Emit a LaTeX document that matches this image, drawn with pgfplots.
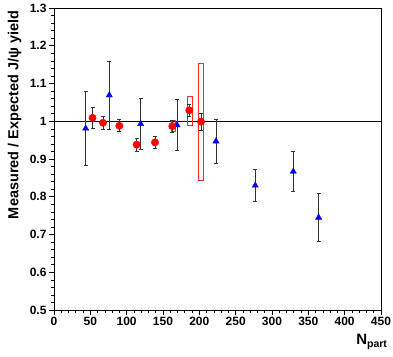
\documentclass[border=0pt]{standalone}
\usepackage{pgfplots}
\pgfplotsset{compat=1.18}
\usepackage{fontspec}
\setmainfont{Liberation Sans}

\begin{document}
\begin{tikzpicture}[x=1pt,y=1pt]
\path[use as bounding box] (-54,-46) rectangle (339,310);
\begin{axis}[
  scale only axis,
  width=327pt, height=302pt,
  at={(0,0)}, anchor=south west,
  xmin=0, xmax=450, ymin=0.5, ymax=1.3,
  xtick={0,50,...,450}, ytick={0.5,0.6,...,1.3},
  minor x tick num=4, minor y tick num=4,
  xtick pos=left, ytick pos=left,
  tick align=outside,
  major tick length=5pt, minor tick length=3pt,
  tick style={black, line width=0.6pt},
  axis line style={line width=0.7pt, black},
  /pgf/number format/assume math mode=true,
  ticklabel style={font=\fontsize{12}{13}\selectfont\bfseries},
  yticklabel style={xshift=1pt},
  xticklabel style={yshift=1.5pt},
  xlabel={N\textsubscript{part}},
  xlabel style={at={(axis description cs:1,0)}, anchor=north east,
    yshift=-21pt, xshift=10pt, font=\fontsize{15}{16}\selectfont\bfseries},
  ylabel={Measured / Expected J/ψ yield},
  ylabel style={at={(axis description cs:-0.089,1.003)}, anchor=south east,
    font=\fontsize{14.5}{16}\selectfont\bfseries},
  clip=false,
]
% reference line
\addplot[black, line width=0.7pt] coordinates {(0,1) (450,1)};
% systematic boxes
\addplot[red!85, line width=0.8pt] coordinates {(162,0.972) (167.5,0.972) (167.5,1.003) (162,1.003) (162,0.972)};
\addplot[red!85, line width=0.8pt] coordinates {(183.5,0.990) (190.4,0.990) (190.4,1.067) (183.5,1.067) (183.5,0.990)};
\addplot[red!85, line width=0.8pt] coordinates {(198.6,0.843) (205.5,0.843) (205.5,1.153) (198.6,1.153) (198.6,0.843)};
% blue triangles
\addplot[blue, only marks, mark=triangle*, mark size=3.6pt,
  error bars/.cd, y dir=both, y explicit,
  error bar style={black!80, line width=0.8pt},
  error mark options={rotate=90, mark size=2pt, black!80, line width=0.8pt}]
  coordinates {
  (43.6,0.981) +- (0,0.098)
  (76.1,1.069) +- (0,0.090)
  (119.3,0.993) +- (0,0.068)
  (169.3,0.990) +- (0,0.068)
  (222.9,0.947) +- (0,0.059)
  (277.0,0.830) +- (0,0.042)
  (329.3,0.867) +- (0,0.052)
  (364.2,0.745) +- (0,0.064)
  };
% red circles
\addplot[red, only marks, mark=*, mark size=3.7pt,
  error bars/.cd, y dir=both, y explicit,
  error bar style={black!80, line width=0.8pt},
  error mark options={rotate=90, mark size=2pt, black!80, line width=0.8pt}]
  coordinates {
  (53.0,1.009) +- (0,0.028)
  (67.4,0.996) +- (0,0.018)
  (89.9,0.988) +- (0,0.016)
  (113.8,0.938) +- (0,0.017)
  (139.0,0.944) +- (0,0.016)
  (162.8,0.987) +- (0,0.016)
  (186.2,1.029) +- (0,0.016)
  (202.3,0.999) +- (0,0.022)
  };
\end{axis}
\end{tikzpicture}
\end{document}
